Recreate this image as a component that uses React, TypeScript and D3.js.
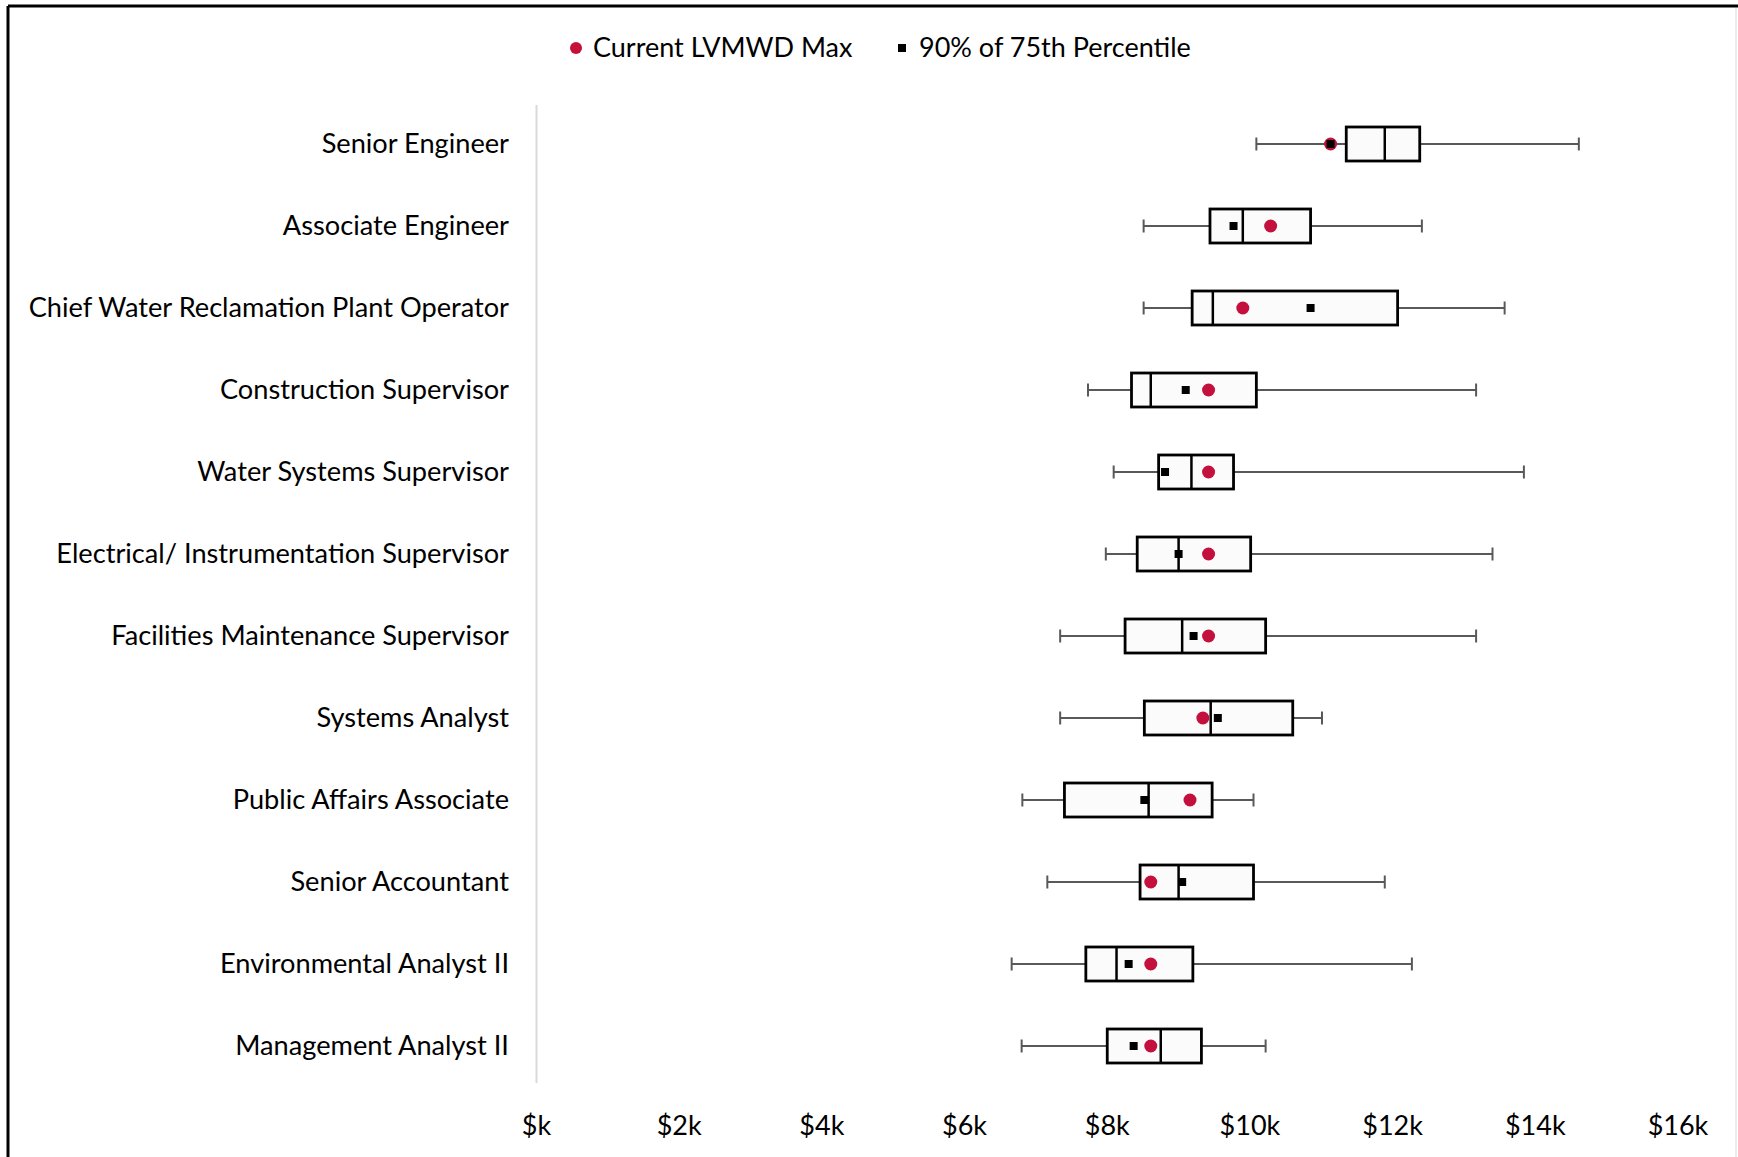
import React from "react";
import * as d3 from "d3";

const categories = [
  "Senior Engineer",
  "Associate Engineer",
  "Chief Water Reclamation Plant Operator",
  "Construction Supervisor",
  "Water Systems Supervisor",
  "Electrical/ Instrumentation Supervisor",
  "Facilities Maintenance Supervisor",
  "Systems Analyst",
  "Public Affairs Associate",
  "Senior Accountant",
  "Environmental Analyst II",
  "Management Analyst II",
];

// values in $k
const whiskerMin = [10.09, 8.51, 8.51, 7.73, 8.09, 7.98, 7.34, 7.34, 6.81, 7.16, 6.66, 6.8];
const q1 = [11.35, 9.44, 9.19, 8.34, 8.72, 8.42, 8.25, 8.52, 7.4, 8.46, 7.7, 8.0];
const median = [11.89, 9.9, 9.48, 8.61, 9.18, 9.0, 9.05, 9.45, 8.58, 9.0, 8.13, 8.75];
const q3 = [12.38, 10.85, 12.07, 10.09, 9.77, 10.01, 10.22, 10.6, 9.47, 10.05, 9.2, 9.32];
const whiskerMax = [14.61, 12.41, 13.57, 13.17, 13.84, 13.4, 13.17, 11.01, 10.05, 11.89, 12.27, 10.22];
const currentMax = [11.13, 10.29, 9.9, 9.42, 9.42, 9.42, 9.42, 9.34, 9.16, 8.61, 8.61, 8.61];
const pct90of75 = [11.13, 9.77, 10.85, 9.1, 8.81, 9.0, 9.21, 9.55, 8.52, 9.05, 8.3, 8.37];

const xTicks = [0, 2, 4, 6, 8, 10, 12, 14, 16];
const legendItems = ["Current LVMWD Max", "90% of 75th Percentile"];

const W = 1738;
const H = 1157;
const RED = "#C4103C";
const FONT = "Lato, 'Open Sans', sans-serif";

export default function App() {
  const x = d3.scaleLinear().domain([0, 16]).range([536.5, 1678]);
  const y = d3.scaleBand<string>().domain(categories).range([103, 1087]).padding(0);
  const bh = 34;
  const capH = 13;
  const fs = 27.2;

  return (
    <div style={{ position: "absolute", left: 0, top: 0 }}>
      <svg width={W} height={H} style={{ display: "block", background: "#fff" }}>
        {/* frame */}
        <line x1={8} y1={6} x2={W} y2={6} stroke="#000" strokeWidth={3} />
        <line x1={8} y1={6} x2={8} y2={H} stroke="#000" strokeWidth={3} />
        <line x1={W - 2} y1={8} x2={W - 2} y2={H} stroke="#e6e6e6" strokeWidth={1.5} />

        {/* legend */}
        <g fontFamily={FONT} fontSize={27} fill="#000">
          <circle cx={576} cy={48} r={6} fill={RED} />
          <text x={593} y={57}>{legendItems[0]}</text>
          <rect x={898} y={44} width={8} height={8} fill="#000" />
          <text x={919} y={57}>{legendItems[1]}</text>
        </g>

        {/* category axis line */}
        <line x1={x(0)} y1={105} x2={x(0)} y2={1083} stroke="#d9d9d9" strokeWidth={2} />

        {/* category labels */}
        <g fontFamily={FONT} fontSize={fs} fill="#000" textAnchor="end">
          {categories.map((c) => (
            <text key={c} x={509} y={(y(c) as number) + y.bandwidth() / 2 + 9}>
              {c}
            </text>
          ))}
        </g>

        {/* x tick labels */}
        <g fontFamily={FONT} fontSize={27} fill="#000" textAnchor="middle">
          {xTicks.map((t) => (
            <text key={t} x={x(t)} y={1135}>
              {t === 0 ? "$k" : `$${t}k`}
            </text>
          ))}
        </g>

        {/* boxes */}
        {categories.map((c, i) => {
          const cy = (y(c) as number) + y.bandwidth() / 2;
          return (
            <g key={c}>
              <line x1={x(whiskerMin[i])} x2={x(q1[i])} y1={cy} y2={cy} stroke="#595959" strokeWidth={2} />
              <line x1={x(q3[i])} x2={x(whiskerMax[i])} y1={cy} y2={cy} stroke="#595959" strokeWidth={2} />
              <line x1={x(whiskerMin[i])} x2={x(whiskerMin[i])} y1={cy - capH / 2} y2={cy + capH / 2} stroke="#595959" strokeWidth={2} />
              <line x1={x(whiskerMax[i])} x2={x(whiskerMax[i])} y1={cy - capH / 2} y2={cy + capH / 2} stroke="#595959" strokeWidth={2} />
              <rect
                x={x(q1[i])}
                y={cy - bh / 2}
                width={x(q3[i]) - x(q1[i])}
                height={bh}
                fill="#fbfbfb"
                stroke="#000"
                strokeWidth={2.8}
              />
              <line x1={x(median[i])} x2={x(median[i])} y1={cy - bh / 2} y2={cy + bh / 2} stroke="#000" strokeWidth={2.5} />
              <circle cx={x(currentMax[i])} cy={cy} r={6.5} fill={RED} />
              <rect x={x(pct90of75[i]) - 4} y={cy - 4} width={8} height={8} fill="#000" />
            </g>
          );
        })}
      </svg>
    </div>
  );
}
